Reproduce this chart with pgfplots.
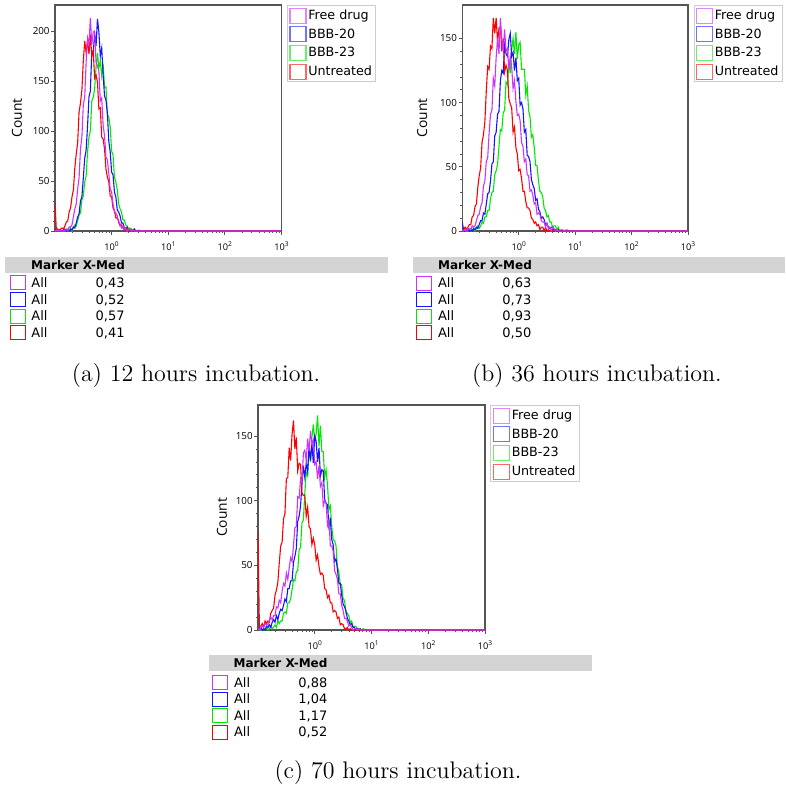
\documentclass[border=0pt]{standalone}
\usepackage{pgfplots}
\pgfplotsset{compat=1.18}
\usepackage{pgfplotstable}
\usepackage{fontspec}
\newfontfamily\dv{DejaVu Sans}
\newfontfamily\os{Open Sans}

\definecolor{cFD}{RGB}{204,51,255}
\definecolor{cB20}{RGB}{20,20,255}
\definecolor{cB23}{RGB}{0,232,0}
\definecolor{cUN}{RGB}{255,0,0}
\definecolor{frm}{RGB}{85,85,85}

% 12 hours
\pgfplotstableread{
x m b g r
0.1 0 1 1 28
0.1059 1 1 0 0
0.1122 0 0 0 2
0.1189 1 1 0 0
0.1259 0 0 1 2
0.1334 0 0 0 3
0.1413 0 1 1 2
0.1496 1 2 0 5
0.1585 2 0 1 9
0.1679 0 0 2 10
0.1778 4 0 0 19
0.1884 4 2 3 23
0.1995 6 1 0 34
0.2113 14 4 4 41
0.2239 22 3 6 63
0.2371 27 8 5 77
0.2512 42 14 10 88
0.2661 53 17 16 119
0.2818 82 30 18 128
0.2985 94 34 31 141
0.3162 126 53 35 170
0.3350 134 73 49 190
0.3548 169 81 55 178
0.3758 193 105 79 191
0.3981 187 134 94 177
0.4217 213 140 100 196
0.4467 186 180 130 175
0.4732 199 178 134 180
0.5012 200 197 142 153
0.5309 169 185 164 156
0.5623 165 212 178 149
0.5957 160 199 163 122
0.6310 130 175 170 123
0.6683 133 183 155 94
0.7079 106 156 167 92
0.7499 95 135 144 82
0.7943 74 131 144 62
0.8414 71 118 116 54
0.8913 58 90 114 49
0.9441 42 79 104 35
1.0 39 59 80 34
1.059 27 56 76 23
1.122 20 39 54 20
1.189 18 34 49 13
1.259 15 21 41 13
1.334 8 19 27 10
1.413 7 15 22 5
1.496 3 8 19 6
1.585 5 8 11 3
1.679 2 3 11 1
1.778 3 3 6 2
1.884 0 4 5 3
1.995 1 0 2 0
2.113 2 1 3 1
2.239 0 1 2 0
2.371 1 0 0 1
2.512 0 2 2 0
2.661 0 0 0 0
2.985 0 0 1 0
3.350 0 0 0 0
10 0 0 0 0
100 0 0 0 0
1000 0 0 0 0
}\tA

% 36 hours
\pgfplotstableread{
x m b g r
0.1 1 7 0 0
0.1059 0 0 1 1
0.1122 1 0 0 3
0.1189 0 1 1 1
0.1259 2 1 0 3
0.1334 2 0 1 5
0.1413 1 1 2 5
0.1496 4 0 0 11
0.1585 3 2 2 12
0.1679 4 1 0 19
0.1778 8 3 2 21
0.1884 12 2 4 34
0.1995 13 5 2 43
0.2113 19 8 4 49
0.2239 22 8 7 69
0.2371 35 14 6 75
0.2512 39 13 11 85
0.2661 54 21 11 109
0.2818 57 29 16 128
0.2985 76 30 16 126
0.3162 91 39 25 144
0.3350 94 52 30 142
0.3548 119 54 31 166
0.3758 113 74 44 154
0.3981 135 77 47 166
0.4217 150 91 52 147
0.4467 138 93 66 158
0.4732 166 117 79 159
0.5012 150 125 78 140
0.5309 140 123 92 150
0.5623 157 145 94 124
0.5957 140 138 116 129
0.6310 142 136 114 125
0.6683 126 149 131 103
0.7079 136 154 123 99
0.7499 128 136 141 96
0.7943 111 139 150 77
0.8414 117 125 138 81
0.8913 101 135 155 65
0.9441 90 117 134 60
1.0 91 119 145 47
1.059 86 98 147 48
1.122 69 100 126 41
1.189 66 95 126 31
1.259 54 77 126 31
1.334 56 79 106 23
1.413 44 59 113 18
1.496 43 58 94 18
1.585 31 54 89 16
1.679 32 40 73 10
1.778 28 36 75 9
1.884 21 33 65 6
1.995 22 24 51 7
2.113 13 25 51 4
2.239 14 17 39 5
2.371 13 15 31 1
2.512 8 10 30 3
2.661 7 11 27 3
2.818 7 9 18 0
2.985 3 5 16 3
3.162 6 6 11 0
3.350 2 3 12 1
3.548 3 2 7 0
3.758 0 3 7 0
3.981 3 3 3 1
4.217 2 0 4 0
4.467 0 1 4 0
4.732 1 0 1 0
5.012 0 1 3 0
5.309 0 0 0 0
5.623 0 0 1 0
5.957 0 0 1 0
6.310 0 0 0 0
7.079 0 0 1 0
7.943 0 0 0 0
10 0 0 0 0
100 0 0 0 0
1000 0 0 0 0
}\tB

% 70 hours
\pgfplotstableread{
x m b g r
0.1 1 0 0 75
0.1059 0 1 1 1
0.1122 3 2 0 3
0.1189 3 0 0 5
0.1259 2 1 1 2
0.1334 5 0 0 7
0.1413 4 3 2 5
0.1496 4 2 0 7
0.1585 7 4 1 6
0.1679 10 2 3 13
0.1778 8 6 1 15
0.1884 11 8 2 17
0.1995 11 6 4 27
0.2113 18 11 2 31
0.2239 17 8 7 37
0.2371 23 13 5 52
0.2512 21 16 7 65
0.2661 30 15 7 68
0.2818 36 19 13 86
0.2985 34 24 14 90
0.3162 44 22 13 117
0.3350 39 32 21 118
0.3548 48 32 21 141
0.3758 56 38 24 131
0.3981 53 38 31 151
0.4217 65 52 39 162
0.4467 79 57 38 140
0.4732 80 63 45 149
0.5012 103 84 46 123
0.5309 102 88 62 129
0.5623 117 96 64 128
0.5957 114 113 83 106
0.6310 137 127 85 104
0.6683 139 118 106 104
0.7079 131 129 122 88
0.7499 148 123 119 95
0.7943 138 142 142 80
0.8414 154 131 130 78
0.8913 144 144 149 66
0.9441 147 129 159 71
1.0 128 150 145 66
1.059 130 146 152 54
1.122 117 130 166 58
1.189 127 141 142 49
1.259 111 119 158 43
1.334 114 124 138 44
1.413 96 123 138 42
1.496 100 101 118 32
1.585 98 98 124 31
1.679 81 97 112 25
1.778 85 80 93 27
1.884 65 85 96 21
1.995 65 70 80 21
2.113 61 66 70 14
2.239 46 53 69 15
2.371 43 55 65 14
2.512 39 47 49 9
2.661 28 36 45 10
2.818 28 36 35 4
2.985 19 27 35 5
3.162 15 20 24 4
3.350 9 18 23 1
3.548 9 15 13 1
3.758 7 9 13 2
3.981 3 7 11 0
4.217 4 4 6 1
4.467 2 5 7 0
4.732 0 2 2 0
5.012 1 2 3 0
5.309 1 0 3 0
5.623 0 1 0 0
5.957 1 0 1 0
6.310 0 1 1 0
6.683 0 0 0 0
7.079 0 0 1 0
7.943 0 0 0 0
10 0 0 0 0
100 0 0 0 0
1000 0 0 0 0
}\tC

\pgfplotsset{
  scale only axis, xmin=0.1, xmax=1000, ymin=0,
  axis line style={frm, line width=0.55pt},
  tick align=outside, xtick pos=left, ytick pos=left,
  major tick length=1.8pt, minor tick length=1pt,
  tick style={frm, line width=0.4pt},
  minor y tick num=4,
  xticklabel style={font=\os\fontsize{4.6}{5}\selectfont, inner sep=0pt, yshift=-3.6pt},
  yticklabel style={font=\os\fontsize{4.9}{5.5}\selectfont, inner sep=0pt, xshift=-0.7pt},
  legend style={at={(axis description cs:1,1)}, anchor=north west, xshift=2.75pt,
    draw=black!20, line width=0.5pt, font=\dv\fontsize{6.35}{7}\selectfont,
    inner xsep=1pt, inner ysep=1pt, row sep=1.25pt,
    nodes={inner sep=0.8pt, text height=5pt, text depth=1.3pt}},
  legend cell align=left,
  legend image code/.code={\draw[#1, line width=0.6pt, opacity=0.6] (0pt,-3.75pt) rectangle (8pt,3.75pt);},
}
\pgfplotsset{/pgf/number format/assume math mode=true}

\newcommand\sups[1]{10\raisebox{1.7pt}{\fontsize{3.3}{4}\selectfont #1}}

\newcommand\addflow[1]{%
  \addlegendimage{cFD}\addlegendentry{Free drug}
  \addlegendimage{cB20}\addlegendentry{BBB-20}
  \addlegendimage{cB23}\addlegendentry{BBB-23}
  \addlegendimage{cUN}\addlegendentry{Untreated}
  \addplot[cB23, line width=0.55pt, no markers, forget plot] table[x=x,y=g]{#1};
  \addplot[cB20, line width=0.55pt, no markers, forget plot] table[x=x,y=b]{#1};
  \addplot[cUN, line width=0.55pt, no markers, forget plot] table[x=x,y=r]{#1};
  \addplot[cFD, line width=0.55pt, no markers, forget plot] table[x=x,y=m]{#1};
}

\newcommand\trow[4]{% square left x, row centre y, colour, value
  \draw[#3, line width=0.5pt] (#1,#2-7) rectangle ++(15,14);
  \node[anchor=base west, inner sep=0pt, font=\dv\fontsize{6.5}{7}\selectfont] at (#1+21,#2+4.7) {All};
  \node[anchor=base east, inner sep=0pt, font=\dv\fontsize{6.5}{7}\selectfont] at (#1+115,#2+4.7) {#4};
}
\newcommand\thead[4]{% bar left, bar right, centre y, text left x
  \fill[black!17] (#1,#3-8) rectangle (#2,#3+8);
  \node[anchor=base west, inner sep=0pt, font=\dv\bfseries\fontsize{6}{7}\selectfont] at (#4,#3+4.4) {Marker X-Med};
}

\begin{document}
\begin{tikzpicture}
\path[use as bounding box] (0,0) rectangle (393pt,-394.5pt);

\begin{axis}[xmode=log, at={(27.5pt,-115.5pt)}, anchor=south west,
  width=113.25pt, height=113pt, ymax=226, ytick={0,50,100,150,200},
  xtick={1,10,100,1000},
  xticklabels={\sups{0},\sups{1},\sups{2},\sups{3}},
  minor xtick={0.2,0.3,0.4,0.5,0.6,0.7,0.8,0.9,2,3,4,5,6,7,8,9,20,30,40,50,60,70,80,90,200,300,400,500,600,700,800,900},
  ylabel={Count},
  ylabel style={at={(axis description cs:-0.168,0.5)}, anchor=center, font=\os\fontsize{6.9}{8}\selectfont}]
\addflow{\tA}
\end{axis}

\begin{axis}[xmode=log, at={(231.15pt,-115.5pt)}, anchor=south west,
  width=112.85pt, height=113pt, ymax=176, ytick={0,50,100,150},
  xtick={1,10,100,1000},
  xticklabels={\sups{0},\sups{1},\sups{2},\sups{3}},
  minor xtick={0.2,0.3,0.4,0.5,0.6,0.7,0.8,0.9,2,3,4,5,6,7,8,9,20,30,40,50,60,70,80,90,200,300,400,500,600,700,800,900},
  ylabel={Count},
  ylabel style={at={(axis description cs:-0.178,0.5)}, anchor=center, font=\os\fontsize{6.9}{8}\selectfont}]
\addflow{\tB}
\end{axis}

\begin{axis}[xmode=log, at={(129pt,-315pt)}, anchor=south west,
  width=113.5pt, height=112.5pt, ymax=174, ytick={0,50,100,150},
  xtick={1,10,100,1000},
  xticklabels={\sups{0},\sups{1},\sups{2},\sups{3}},
  minor xtick={0.2,0.3,0.4,0.5,0.6,0.7,0.8,0.9,2,3,4,5,6,7,8,9,20,30,40,50,60,70,80,90,200,300,400,500,600,700,800,900},
  ylabel={Count},
  ylabel style={at={(axis description cs:-0.159,0.5)}, anchor=center, font=\os\fontsize{6.9}{8}\selectfont}]
\addflow{\tC}
\end{axis}

\begin{scope}[x=0.5pt, y=-0.5pt]
  % table (a)
  \thead{5}{388}{265}{30.7}
  \trow{10}{282.7}{cFD}{0,43}
  \trow{10}{299.3}{cB20}{0,52}
  \trow{10}{316}{cB23}{0,57}
  \trow{10}{332.7}{cUN}{0,41}
  % table (b)
  \thead{413}{785}{265}{437.7}
  \trow{416.7}{283}{cFD}{0,63}
  \trow{416.7}{299.5}{cB20}{0,73}
  \trow{416.7}{316}{cB23}{0,93}
  \trow{416.7}{332.7}{cUN}{0,50}
  % table (c)
  \thead{209.3}{591.7}{663}{233.3}
  \trow{212.7}{682.5}{cFD}{0,88}
  \trow{212.7}{699}{cB20}{1,04}
  \trow{212.7}{715.5}{cB23}{1,17}
  \trow{212.7}{732}{cUN}{0,52}
  % captions
  \node[font=\fontsize{12}{14}\selectfont, anchor=center] at (196,376) {(a) 12 hours incubation.};
  \node[font=\fontsize{12}{14}\selectfont, anchor=center] at (597,376) {(b) 36 hours incubation.};
  \node[font=\fontsize{12}{14}\selectfont, anchor=center] at (398,773) {(c) 70 hours incubation.};
\end{scope}
\end{tikzpicture}
\end{document}
